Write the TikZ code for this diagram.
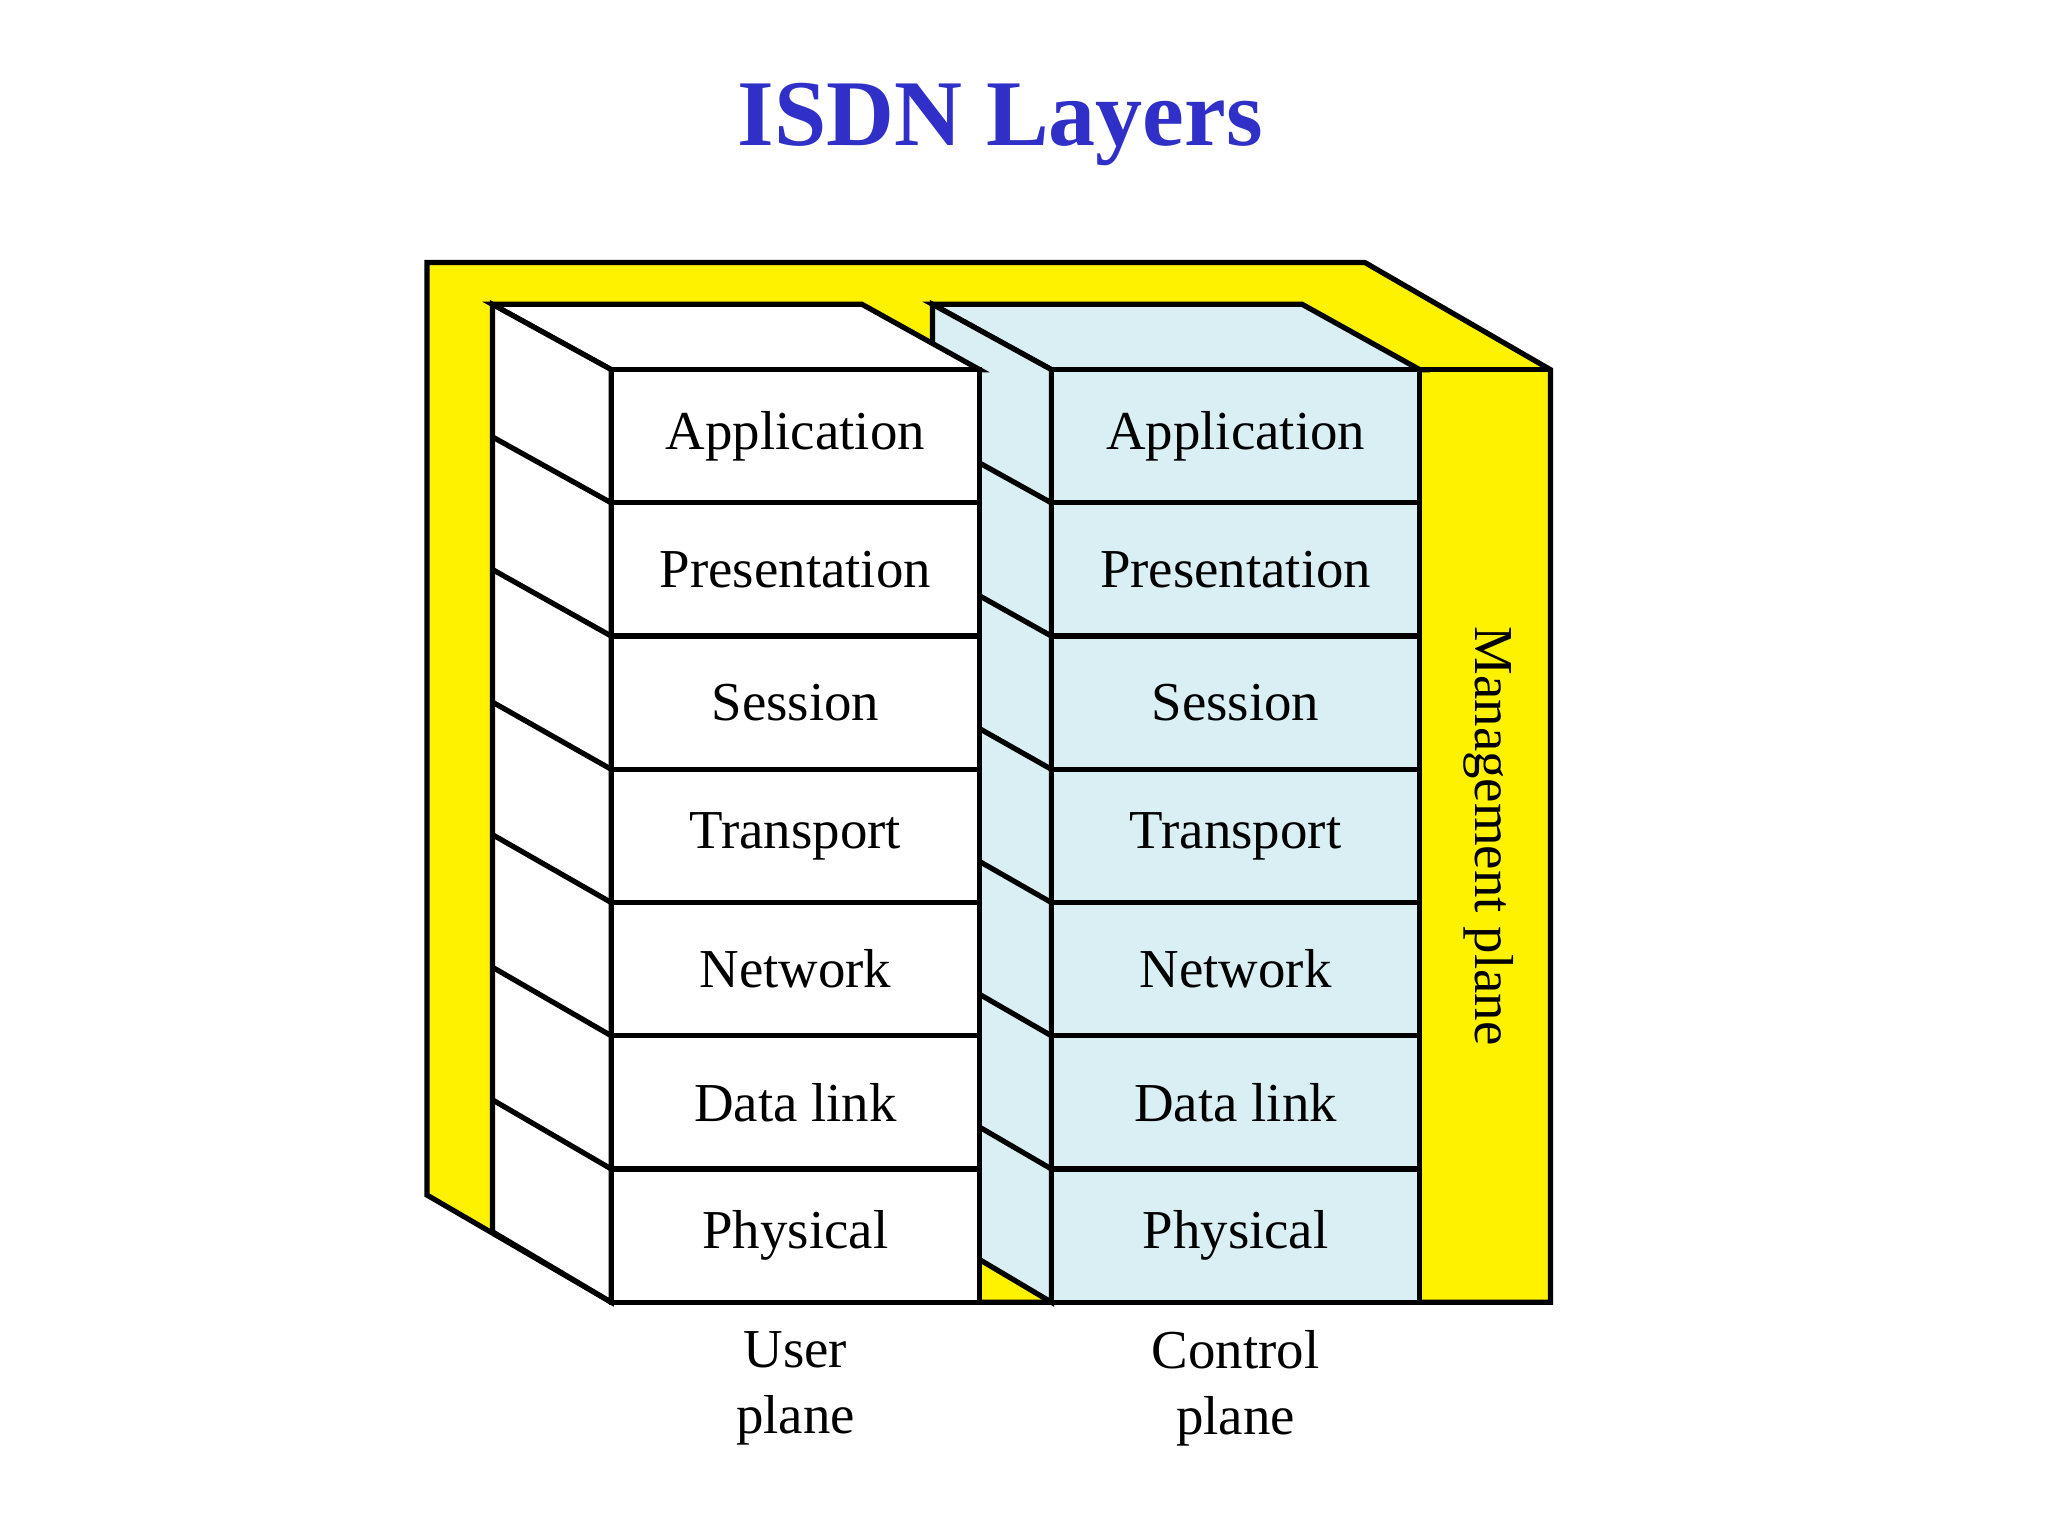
\documentclass[tikz,border=0pt]{standalone}
\usepackage{fontspec}
\setmainfont{Liberation Serif}
\begin{document}
\begin{tikzpicture}[x=1pt,y=-1pt,line join=miter,
  edge/.style={draw=black,line width=4pt},
  lay/.style={font=\fontsize{42}{48}\selectfont},
  lbl/.style={font=\fontsize{42}{50}\selectfont,align=center}]
\definecolor{lblue}{RGB}{218,239,244}
\definecolor{ttl}{RGB}{48,48,200}
\useasboundingbox (0,0) rectangle (1568,1176);
\fill[white] (0,0) rectangle (1568,1176);
\node[font=\fontsize{72}{80}\selectfont\bfseries,text=ttl] (title) at (766,95) {ISDN Layers};
% management plane box
\filldraw[fill=yellow,edge] (327,201)--(1045,201)--(1187,283)--(1187,997)--(468,997)--(327,915)--cycle;
\draw[edge] (1087,283)--(1187,283);
% stacks
\foreach \x/\c/\n in {805/lblue/C,468/white/U}{
  \filldraw[fill=\c,edge] (\x-91,233)--(\x+192,233)--(\x+282,283)--(\x,283)--cycle;
  \filldraw[fill=\c,edge] (\x-91,233)--(\x,283)--(\x,997)--(\x-91,943)--cycle;
  \foreach \k in {1,...,6}{\draw[edge] (\x,283+102*\k)--(\x-91,233+102*\k-0.5*\k);}
  \filldraw[fill=\c,edge] (\x,283) rectangle (\x+282,997);
  \foreach \k in {1,...,6}{\draw[edge] (\x,283+102*\k)--(\x+282,283+102*\k);}
  \foreach \t [count=\i] in {Application,Presentation,Session,Transport,Network,Data link,Physical}{
    \node[lay] (\n\i) at (\x+141,283+102*\i-51) {\t};}
}
\node[lay,rotate=-90] (mp) at (1140,640) {Management plane};
\node[lbl] (up) at (609,1063) {User\\plane};
\node[lbl] (cp) at (946,1063) {Control\\plane};
\end{tikzpicture}
\end{document}
